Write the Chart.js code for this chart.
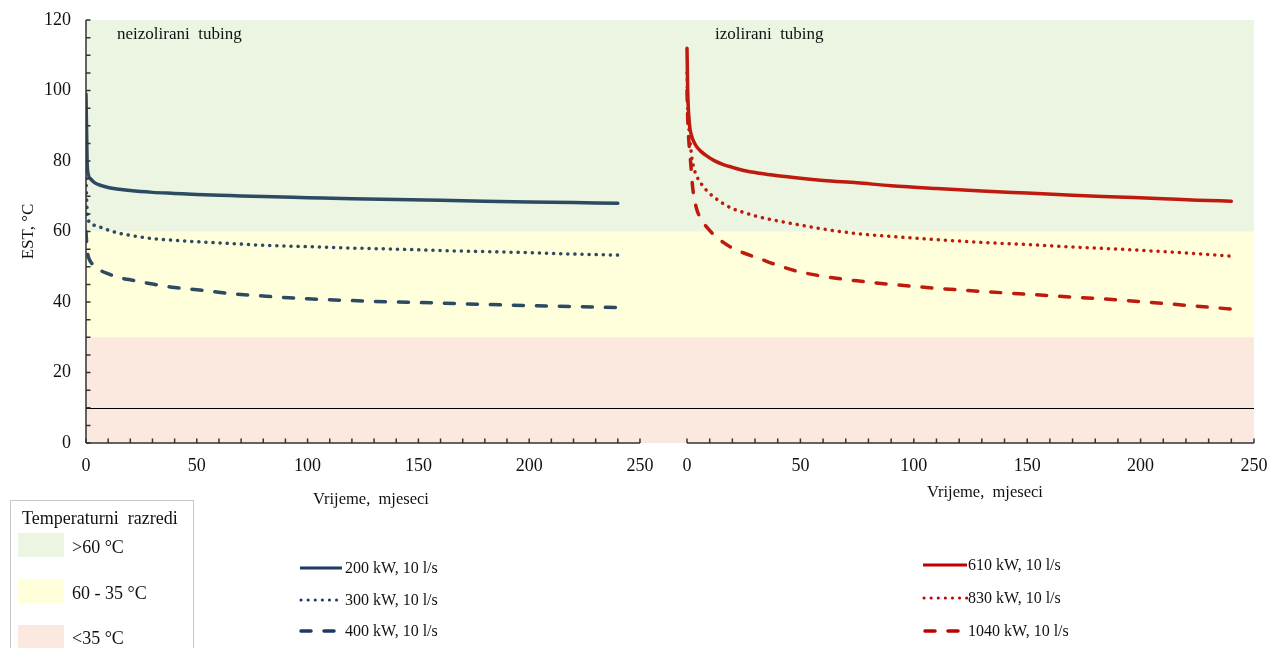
<!DOCTYPE html>
<html lang="hr">
<head>
<meta charset="UTF-8">
<title>EST - neizolirani / izolirani tubing</title>
<script src="https://cdn.jsdelivr.net/npm/chart.js@4.4.0/dist/chart.umd.min.js"></script>
<style>
  body { margin: 0; background: #fff; font-family: "Liberation Serif", "Times New Roman", serif; color: #111; }
  #wrap { position: relative; width: 1282px; height: 648px; overflow: hidden; }
  #chart { position: absolute; left: 0; top: 0; }
  .lbl { position: absolute; font-size: 16px; line-height: 20px; white-space: pre; }
  .big { font-size: 18px; line-height: 22px; }
  .classes { position: absolute; left: 10px; top: 500px; width: 182px; height: 170px; border: 1px solid #c9c9c9; }
  .sw { position: absolute; width: 46px; height: 24px; }
  .ser { position: absolute; }
</style>
</head>
<body>
<div id="wrap">
  <canvas id="chart" width="1282" height="648"></canvas>

  <div class="classes"></div>
  <div class="lbl big" style="left:22px; top:507px;">Temperaturni  razredi</div>
  <div class="sw" style="left:18px; top:533px; background:#ebf5e2;"></div>
  <div class="lbl big" style="left:72px; top:536px;">&gt;60 °C</div>
  <div class="sw" style="left:18px; top:579px; background:#ffffdc;"></div>
  <div class="lbl big" style="left:72px; top:582px;">60 - 35 °C</div>
  <div class="sw" style="left:18px; top:625px; background:#fbe9df;"></div>
  <div class="lbl big" style="left:72px; top:627px;">&lt;35 °C</div>

  <svg class="ser" style="left:298px; top:560px;" width="46" height="80">
    <line x1="2" y1="8" x2="44" y2="8" stroke="#203864" stroke-width="3"/>
    <line x1="3" y1="40" x2="44" y2="40" stroke="#203864" stroke-width="3" stroke-dasharray="0.1 7" stroke-linecap="round"/>
    <line x1="3" y1="71" x2="44" y2="71" stroke="#203864" stroke-width="3.5" stroke-dasharray="10 13" stroke-linecap="round"/>
  </svg>
  <div class="lbl" style="left:345px; top:558px;">200 kW, 10 l/s</div>
  <div class="lbl" style="left:345px; top:590px;">300 kW, 10 l/s</div>
  <div class="lbl" style="left:345px; top:621px;">400 kW, 10 l/s</div>

  <svg class="ser" style="left:921px; top:557px;" width="48" height="80">
    <line x1="2" y1="8" x2="46" y2="8" stroke="#c00000" stroke-width="3"/>
    <line x1="3" y1="41" x2="46" y2="41" stroke="#c00000" stroke-width="3" stroke-dasharray="0.1 7" stroke-linecap="round"/>
    <line x1="4" y1="74" x2="46" y2="74" stroke="#c00000" stroke-width="3.5" stroke-dasharray="10 13" stroke-linecap="round"/>
  </svg>
  <div class="lbl" style="left:968px; top:555px;">610 kW, 10 l/s</div>
  <div class="lbl" style="left:968px; top:588px;">830 kW, 10 l/s</div>
  <div class="lbl" style="left:968px; top:621px;">1040 kW, 10 l/s</div>
</div>

<script>
// time axis (months) for each panel
const leftMonths = [0, 0.5, 1, 2, 4, 7, 10, 15, 20, 30, 40, 50, 65, 80, 100, 120, 140, 160, 180, 200, 220, 240];
const rightMonths = [0, 0.3, 1, 1.5, 2.5, 4, 6, 9, 12, 16, 20, 25, 32, 40, 50, 60, 75, 90, 110, 130, 150, 170, 190, 210, 225, 240];

// neizolirani tubing
const est200 = [99, 80, 76.3, 75.0, 73.8, 73.0, 72.5, 72.0, 71.6, 71.1, 70.8, 70.5, 70.2, 69.9, 69.6, 69.3, 69.1, 68.9, 68.6, 68.4, 68.2, 68.0];
const est300 = [75, 66, 63.5, 62.3, 61.7, 61.1, 60.4, 59.5, 58.9, 58.0, 57.5, 57.1, 56.6, 56.1, 55.7, 55.3, 55.0, 54.6, 54.3, 54.0, 53.6, 53.3];
const est400 = [60, 55, 53.0, 51.5, 50.0, 48.8, 48.0, 46.9, 46.3, 45.1, 44.1, 43.5, 42.4, 41.7, 40.9, 40.4, 40.0, 39.7, 39.3, 39.0, 38.7, 38.4];

// izolirani tubing
const est610 = [112, 100, 91, 88.5, 86.2, 84.3, 82.8, 81.3, 80.1, 79.0, 78.2, 77.3, 76.5, 75.8, 75.1, 74.5, 73.8, 73.0, 72.2, 71.5, 70.9, 70.3, 69.8, 69.3, 68.9, 68.6];
const est830 = [105, 96, 88, 84.5, 79.5, 76.1, 73.8, 71.4, 69.7, 67.9, 66.5, 65.4, 64.1, 63.0, 61.8, 60.7, 59.4, 58.6, 57.7, 56.9, 56.3, 55.6, 55.0, 54.3, 53.7, 53.0];
const est1040 = [100, 92, 84, 80.5, 72.5, 67.0, 63.7, 61.0, 59.0, 56.9, 55.3, 53.9, 52.3, 50.4, 48.5, 47.3, 46.0, 45.0, 43.9, 43.0, 42.2, 41.4, 40.6, 39.6, 38.8, 38.0];

// temperature classes (°C) and reference line
const bandLimits = [0, 30, 60, 120];
const bandColors = ['#fbe9df', '#ffffdc', '#ebf5e2'];
const refLine = 10;

const xTicks = [0, 50, 100, 150, 200, 250];
const yTicks = [0, 20, 40, 60, 80, 100, 120];

const BLUE = '#2d4a63';
const RED = '#bf1a0e';
const FONT = '"Liberation Serif", "Times New Roman", serif';

function pts(xs, ys) {
    return xs.map((x, i) => ({x: x, y: ys[i]}));
}

function series(label, xs, ys, color, style, axis) {
    const ds = {
        label: label,
        data: pts(xs, ys),
        xAxisID: axis,
        borderColor: color,
        borderWidth: 3.5,
        borderCapStyle: 'round',
        pointRadius: 0,
        fill: false,
        cubicInterpolationMode: 'monotone'
    };
    if (style === 'dot') ds.borderDash = [0.1, 7];
    if (style === 'dash') ds.borderDash = [10, 13];
    return ds;
}

// background bands, axes with inward ticks, panel texts
const panelPlugin = {
    id: 'panels',
    beforeDraw(chart) {
        const {ctx, chartArea: a, scales: {y}} = chart;
        ctx.save();
        for (let i = 0; i < bandColors.length; i++) {
            const top = y.getPixelForValue(bandLimits[i + 1]);
            const bot = y.getPixelForValue(bandLimits[i]);
            ctx.fillStyle = bandColors[i];
            ctx.fillRect(a.left, top, a.right - a.left, bot - top);
        }
        const yr = Math.round(y.getPixelForValue(refLine)) + 0.5;
        ctx.strokeStyle = '#000';
        ctx.lineWidth = 1;
        ctx.beginPath();
        ctx.moveTo(a.left, yr);
        ctx.lineTo(a.right, yr);
        ctx.stroke();
        ctx.restore();
    },
    afterDraw(chart) {
        const {ctx, chartArea: a, scales} = chart;
        const y = scales.y;
        const base = y.getPixelForValue(0);
        ctx.save();
        ctx.strokeStyle = '#333';
        ctx.fillStyle = '#111';
        ctx.lineWidth = 1.5;

        // y axis line + minor ticks every 5
        ctx.beginPath();
        ctx.moveTo(a.left, y.getPixelForValue(120));
        ctx.lineTo(a.left, base);
        for (let v = 0; v <= 120; v += 5) {
            const py = y.getPixelForValue(v);
            ctx.moveTo(a.left, py);
            ctx.lineTo(a.left + 4.5, py);
        }
        ctx.stroke();

        // both time axes
        ctx.font = '18px ' + FONT;
        ctx.textAlign = 'center';
        ctx.textBaseline = 'middle';
        ['x', 'x2'].forEach(id => {
            const s = scales[id];
            ctx.beginPath();
            ctx.moveTo(s.getPixelForValue(0), base);
            ctx.lineTo(s.getPixelForValue(250), base);
            for (let v = 0; v <= 250; v += 10) {
                const px = s.getPixelForValue(v);
                ctx.moveTo(px, base);
                ctx.lineTo(px, base - 4.5);
            }
            ctx.stroke();
            xTicks.forEach(v => ctx.fillText(String(v), s.getPixelForValue(v), 466));
        });

        ctx.font = '16.5px ' + FONT;
        ctx.fillText('Vrijeme,  mjeseci', 371, 500);
        ctx.fillText('Vrijeme,  mjeseci', 985, 493);

        ctx.font = '17px ' + FONT;
        ctx.textAlign = 'left';
        ctx.fillText('neizolirani  tubing', 117, 35);
        ctx.fillText('izolirani  tubing', 715, 35);
        ctx.restore();
    }
};

const ctx = document.getElementById('chart').getContext('2d');
new Chart(ctx, {
    type: 'line',
    data: {
        datasets: [
            series('200 kW, 10 l/s', leftMonths, est200, BLUE, 'solid', 'x'),
            series('300 kW, 10 l/s', leftMonths, est300, BLUE, 'dot', 'x'),
            series('400 kW, 10 l/s', leftMonths, est400, BLUE, 'dash', 'x'),
            series('610 kW, 10 l/s', rightMonths, est610, RED, 'solid', 'x2'),
            series('830 kW, 10 l/s', rightMonths, est830, RED, 'dot', 'x2'),
            series('1040 kW, 10 l/s', rightMonths, est1040, RED, 'dash', 'x2')
        ]
    },
    options: {
        responsive: false,
        animation: false,
        devicePixelRatio: 1,
        layout: {padding: {top: 20, right: 28, bottom: 205, left: 0}},
        plugins: {legend: {display: false}, tooltip: {enabled: false}},
        scales: {
            x: {type: 'linear', display: false, min: 0, max: 527.1},
            x2: {type: 'linear', display: false, min: -265.0, max: 250},
            y: {
                min: 0,
                max: 120,
                afterFit(axis) {
                    axis.width = 86;
                    axis.paddingTop = 0;
                    axis.paddingBottom = 0;
                },
                afterBuildTicks(axis) { axis.ticks = yTicks.map(v => ({value: v})); },
                grid: {display: false, drawTicks: false},
                border: {display: false},
                ticks: {color: '#111', font: {family: FONT, size: 18}, padding: 15},
                title: {
                    display: true,
                    text: 'EST, °C',
                    color: '#111',
                    font: {family: FONT, size: 17},
                    padding: {top: 18, bottom: 0}
                }
            }
        }
    },
    plugins: [panelPlugin]
});
</script>
</body>
</html>
